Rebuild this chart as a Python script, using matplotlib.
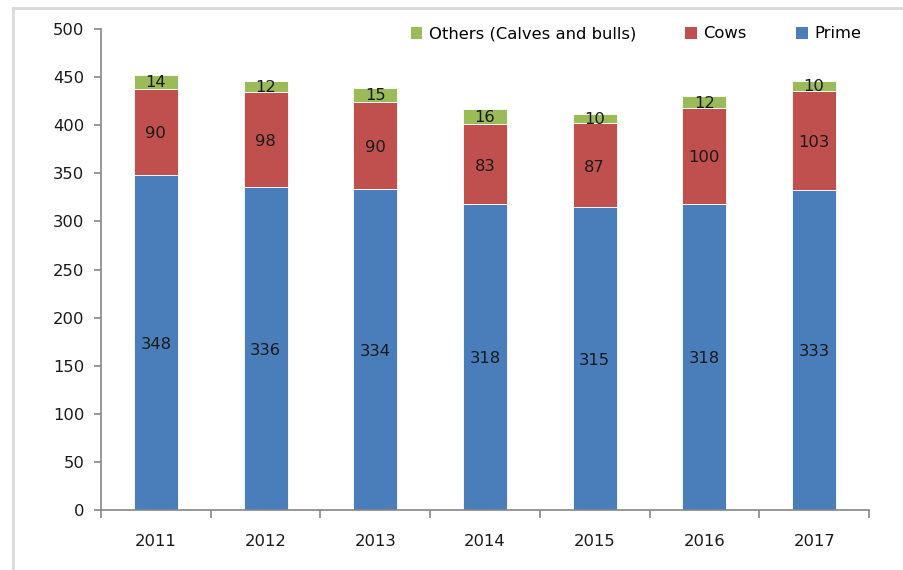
import matplotlib
matplotlib.use("Agg")
import matplotlib.pyplot as plt
from matplotlib.patches import Patch
from matplotlib.lines import Line2D
import numpy as np

years = ["2011", "2012", "2013", "2014", "2015", "2016", "2017"]
prime = [348, 336, 334, 318, 315, 318, 333]
cows = [90, 98, 90, 83, 87, 100, 103]
others = [14, 12, 15, 16, 10, 12, 10]

c_prime = "#4A7EBB"
c_cows = "#C0504D"
c_others = "#9BBB59"
axis_col = "#868686"

plt.rcParams['font.family'] = ['DejaVu Sans']
fig = plt.figure(figsize=(9.04, 5.70), dpi=100)
ax = fig.add_axes([101/904, 1-510/570, (869-101)/904, (510-29)/570])

x = np.arange(len(years))
w = 0.40
p = np.array(prime); c = np.array(cows); o = np.array(others)
ax.bar(x, p, w, color=c_prime, edgecolor="white", linewidth=0.6)
ax.bar(x, c, w, bottom=p, color=c_cows, edgecolor="white", linewidth=0.6)
ax.bar(x, o, w, bottom=p + c, color=c_others, edgecolor="white", linewidth=0.6)

fs = 11.8
off = -2.0  # Excel places labels a touch below centre
for i in range(len(x)):
    ax.text(x[i], p[i] / 2 + off, str(p[i]), ha="center", va="center", fontsize=fs, color="#1a1a1a")
    ax.text(x[i], p[i] + c[i] / 2 + off, str(c[i]), ha="center", va="center", fontsize=fs, color="#1a1a1a")
    ax.text(x[i], p[i] + c[i] + o[i] / 2 - 1, str(o[i]), ha="center", va="center", fontsize=fs, color="#1a1a1a")

ax.set_xlim(-0.5, len(years) - 0.5)
ax.set_ylim(0, 500)
ax.set_yticks(np.arange(0, 501, 50))
ax.set_xticks(x)
ax.set_xticklabels(years)
ax.set_xticks(np.arange(-0.5, len(years), 1.0), minor=True)
ax.tick_params(axis="x", which="major", length=0, labelsize=fs, pad=17, labelcolor="#1a1a1a")
ax.tick_params(axis="x", which="minor", length=6, color=axis_col, width=1.2, direction="out")
ax.tick_params(axis="y", which="major", length=5, color=axis_col, width=1.2, labelsize=fs, pad=7, labelcolor="#1a1a1a")

for s in ["top", "right"]:
    ax.spines[s].set_visible(False)
for s in ["left", "bottom"]:
    ax.spines[s].set_color(axis_col)
    ax.spines[s].set_linewidth(1.2)

handles = [Patch(facecolor=c_others), Patch(facecolor=c_cows), Patch(facecolor=c_prime)]
labels = ["Others (Calves and bulls)", "Cows", "Prime"]
fig.legend(handles, labels, loc="center", bbox_to_anchor=(636/904, 1-34/570), ncol=3,
           frameon=False, fontsize=fs, handlelength=0.7, handleheight=0.7,
           handletextpad=0.4, columnspacing=3.0)

# chart outer border (left and top)
fig.add_artist(Line2D([13/904, 13/904], [0, 1-8/570], transform=fig.transFigure, color="#d9d9d9", linewidth=2))
fig.add_artist(Line2D([13/904, 1], [1-8/570, 1-8/570], transform=fig.transFigure, color="#d9d9d9", linewidth=2))

fig.savefig("out.png", dpi=100)
